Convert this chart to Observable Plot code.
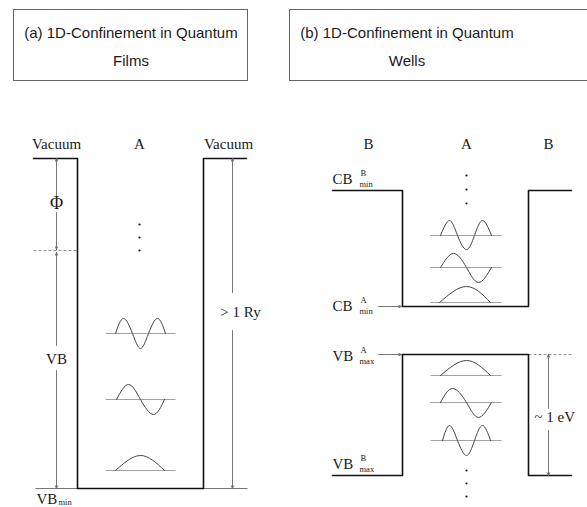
<!DOCTYPE html>
<html>
<head>
<meta charset="utf-8">
<script src="https://cdn.jsdelivr.net/npm/d3@7"></script>
<script src="https://cdn.jsdelivr.net/npm/@observablehq/plot@0.6"></script>
<style>
  html, body { margin: 0; padding: 0; background: #fff; }
  body { width: 587px; height: 507px; overflow: hidden; position: relative; }
  .box {
    position: absolute; top: 9px; height: 70px;
    border: 1px solid #666; box-sizing: content-box;
  }
  .box .t {
    width: 234px; text-align: center; padding-top: 9px;
    font-family: "Liberation Sans", Arial, sans-serif; font-size: 15px;
    line-height: 28px; color: #1a1a1a;
  }
  #chart { position: absolute; left: 0; top: 100px; }
</style>
</head>
<body>
<div class="box" style="left:13px; width:233px;"><div class="t">(a) 1D-Confinement in Quantum<br>Films</div></div>
<div class="box" style="left:289px; width:320px;"><div class="t">(b) 1D-Confinement in Quantum<br>Wells</div></div>
<div id="chart"></div>
<script>
// Schematic coordinates: x = position across the structure, y = energy (arbitrary units).

// (a) quantum film: vacuum barriers on both sides of film A
const filmProfile = [[3.3, 34.9], [7.7, 34.9], [7.7, 1.9], [20.3, 1.9], [20.3, 34.9], [24.6, 34.9]];
// (b) quantum well: conduction- and valence-band edges of A between B barriers
const cbProfile = [[33.2, 31.7], [40.2, 31.7], [40.2, 20.1], [52.8, 20.1], [52.8, 31.7], [57.1, 31.7]];
const vbProfile = [[33.2, 3.2], [40.2, 3.2], [40.2, 15.3], [52.8, 15.3], [52.8, 3.2], [57.1, 3.2]];

// thin reference levels
const refLevels = [
  {x1: 3.5, x2: 24.7, y: 1.9, dashed: false},   // VB min
  {x1: 3.3, x2: 7.7, y: 25.7, dashed: true},    // top of the VB (Φ below vacuum)
  {x1: 52.8, x2: 57.1, y: 15.3, dashed: true}   // VB max of A continued into B
];

// confined states: baseline energy and span of each level line
const stateLevels = [
  {id: "a1", y: 3.7, x1: 10.5, x2: 17.5},
  {id: "a2", y: 10.8, x1: 10.5, x2: 17.5},
  {id: "a3", y: 17.4, x1: 10.5, x2: 17.5},
  {id: "c1", y: 20.5, x1: 43.0, x2: 50.1},
  {id: "c2", y: 24.0, x1: 43.0, x2: 50.1},
  {id: "c3", y: 27.2, x1: 43.0, x2: 50.1},
  {id: "v1", y: 13.2, x1: 43.0, x2: 50.1},
  {id: "v2", y: 10.5, x1: 43.0, x2: 50.1},
  {id: "v3", y: 6.7, x1: 43.0, x2: 50.1}
];

// wavefunction nodes and extrema of each state
const waveA1 = [[11.5, 3.7], [14.0, 5.2], [16.4, 3.7]];
const waveA2 = [[11.6, 10.8], [12.8, 12.3], [14.0, 10.8], [15.3, 9.3], [16.4, 10.8]];
const waveA3 = [[11.5, 17.4], [12.3, 18.9], [13.2, 17.4], [14.0, 15.9], [14.8, 17.4], [15.7, 18.9], [16.5, 17.4]];
const waveC1 = [[43.9, 20.5], [46.6, 22.1], [49.0, 20.5]];
const waveC2 = [[44.0, 24.0], [45.3, 25.4], [46.6, 24.0], [47.8, 22.5], [49.1, 24.0]];
const waveC3 = [[44.0, 27.2], [44.9, 28.7], [45.7, 27.2], [46.6, 25.8], [47.4, 27.2], [48.2, 28.7], [49.1, 27.2]];
const waveV1 = [[44.0, 13.2], [46.6, 14.7], [49.0, 13.2]];
const waveV2 = [[44.0, 10.5], [45.2, 11.9], [46.6, 10.5], [47.8, 9.0], [49.1, 10.5]];
const waveV3 = [[44.2, 6.7], [44.9, 8.2], [45.7, 6.7], [46.6, 5.2], [47.4, 6.7], [48.2, 8.2], [49.0, 6.7]];

// higher states continue: ellipsis dots
const ellipsisDots = [
  [13.9, 28.3], [13.9, 27.0], [13.9, 25.7],
  [46.6, 33.2], [46.6, 31.8], [46.6, 30.4],
  [46.6, 3.7], [46.6, 2.4], [46.6, 1.1]
];

// dimension arrows (split around their labels) and level pointers
const arrows = [
  {x1: 5.6, y1: 31.2, x2: 5.6, y2: 34.9},
  {x1: 5.6, y1: 29.5, x2: 5.6, y2: 25.8},
  {x1: 5.6, y1: 16.2, x2: 5.6, y2: 25.5},
  {x1: 5.6, y1: 13.7, x2: 5.6, y2: 1.9},
  {x1: 23.2, y1: 21.5, x2: 23.2, y2: 34.9},
  {x1: 23.2, y1: 17.7, x2: 23.2, y2: 1.9},
  {x1: 54.8, y1: 9.9, x2: 54.8, y2: 15.3},
  {x1: 54.8, y1: 7.7, x2: 54.8, y2: 3.2},
  {x1: 37.8, y1: 20.1, x2: 40.1, y2: 20.1},
  {x1: 37.8, y1: 15.3, x2: 40.1, y2: 15.3}
];

// text labels
const mainLabels = [
  {x: 5.6, y: 36.35, text: "Vacuum", anchor: "middle", size: 15},
  {x: 13.9, y: 36.35, text: "A", anchor: "middle", size: 15},
  {x: 22.8, y: 36.35, text: "Vacuum", anchor: "middle", size: 15},
  {x: 5.6, y: 30.4, text: "Φ", anchor: "middle", size: 18},
  {x: 5.6, y: 14.85, text: "VB", anchor: "middle", size: 15},
  {x: 3.6, y: 0.85, text: "VB", anchor: "start", size: 15},
  {x: 24.0, y: 19.55, text: "> 1 Ry", anchor: "middle", size: 15},
  {x: 36.8, y: 36.35, text: "B", anchor: "middle", size: 15},
  {x: 46.6, y: 36.35, text: "A", anchor: "middle", size: 15},
  {x: 54.8, y: 36.35, text: "B", anchor: "middle", size: 15},
  {x: 33.2, y: 32.85, text: "CB", anchor: "start", size: 15},
  {x: 33.2, y: 20.15, text: "CB", anchor: "start", size: 15},
  {x: 33.2, y: 15.15, text: "VB", anchor: "start", size: 15},
  {x: 33.2, y: 4.35, text: "VB", anchor: "start", size: 15},
  {x: 53.4, y: 9.05, text: "~ 1 eV", anchor: "start", size: 15}
];
const scriptLabels = [
  {x: 5.8, y: 0.5, text: "min"},
  {x: 36.0, y: 33.4, text: "B"}, {x: 35.9, y: 32.3, text: "min"},
  {x: 36.0, y: 20.7, text: "A"}, {x: 35.9, y: 19.6, text: "min"},
  {x: 36.0, y: 15.7, text: "A"}, {x: 35.9, y: 14.6, text: "max"},
  {x: 36.0, y: 4.9, text: "B"}, {x: 35.9, y: 3.8, text: "max"}
];

const waves = [
  ["a1", waveA1], ["a2", waveA2], ["a3", waveA3],
  ["c1", waveC1], ["c2", waveC2], ["c3", waveC3],
  ["v1", waveV1], ["v2", waveV2], ["v3", waveV3]
].flatMap(([id, pts]) => pts.map(([x, y]) => ({id, x, y})));

const profiles = [["film", filmProfile], ["cb", cbProfile], ["vb", vbProfile]]
  .flatMap(([id, pts]) => pts.map(([x, y]) => ({id, x, y})));

const serif = "Liberation Serif, Times New Roman, serif";

const chart = Plot.plot({
  width: 587,
  height: 407,
  margin: 0,
  x: {domain: [0, 58.7], axis: null},
  y: {domain: [0, 40.7], axis: null},
  marks: [
    Plot.link(refLevels.filter(d => !d.dashed), {x1: "x1", x2: "x2", y1: "y", y2: "y", stroke: "#666", strokeWidth: 0.9}),
    Plot.link(refLevels.filter(d => d.dashed), {x1: "x1", x2: "x2", y1: "y", y2: "y", stroke: "#888", strokeWidth: 0.9, strokeDasharray: "3,2"}),
    Plot.link(stateLevels, {x1: "x1", x2: "x2", y1: "y", y2: "y", stroke: "#999", strokeWidth: 0.9}),
    Plot.line(waves, {x: "x", y: "y", z: "id", curve: "natural", stroke: "#444", strokeWidth: 1}),
    Plot.line(profiles, {x: "x", y: "y", z: "id", stroke: "#111", strokeWidth: 1.6}),
    Plot.arrow(arrows, {x1: "x1", y1: "y1", x2: "x2", y2: "y2", stroke: "#666", strokeWidth: 0.9, headLength: 5, headAngle: 45}),
    Plot.dot(ellipsisDots, {x: d => d[0], y: d => d[1], r: 1.1, fill: "#111", stroke: null}),
    Plot.text(mainLabels, {x: "x", y: "y", text: "text", textAnchor: "start", fontSize: d => d.size, fontFamily: serif, fill: "#1a1a1a", lineAnchor: "middle", filter: d => d.anchor === "start"}),
    Plot.text(mainLabels, {x: "x", y: "y", text: "text", textAnchor: "middle", fontSize: d => d.size, fontFamily: serif, fill: "#1a1a1a", lineAnchor: "middle", filter: d => d.anchor === "middle"}),
    Plot.text(scriptLabels, {x: "x", y: "y", text: "text", textAnchor: "start", fontSize: 8.5, fontFamily: serif, fill: "#222", lineAnchor: "middle"})
  ]
});
document.getElementById("chart").appendChild(chart);
</script>
</body>
</html>
